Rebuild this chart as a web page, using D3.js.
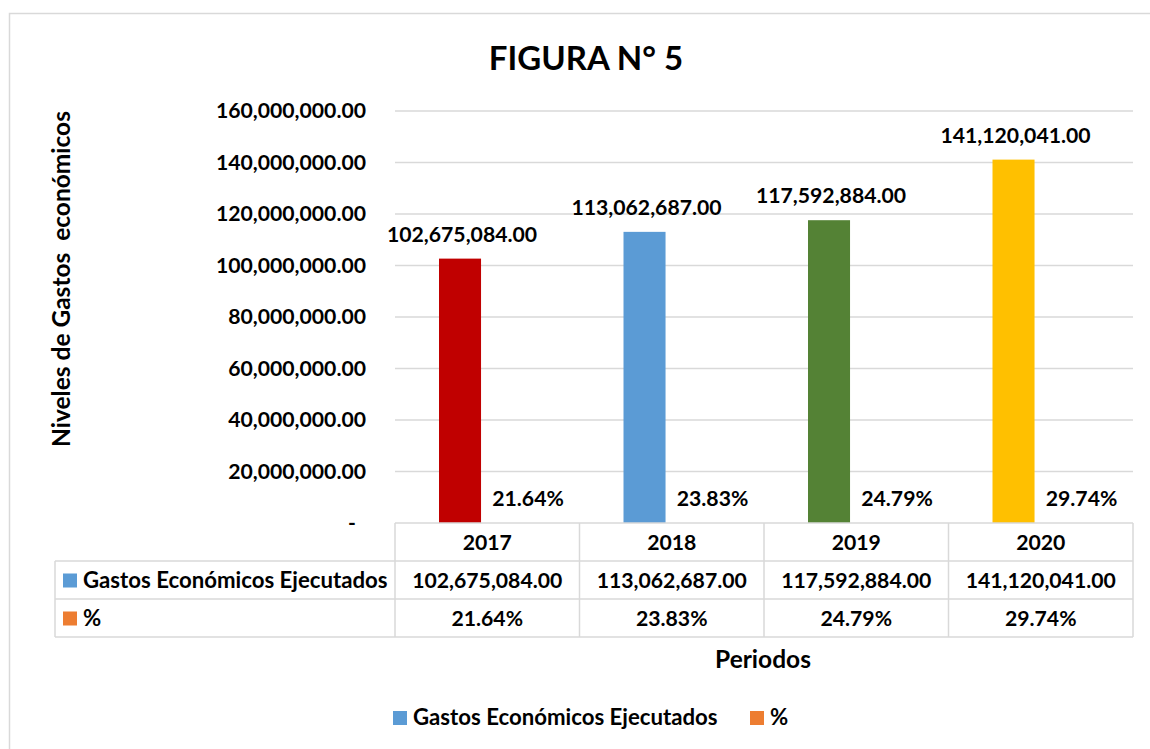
<!DOCTYPE html>
<html>
<head>
<meta charset="utf-8">
<script src="https://cdn.jsdelivr.net/npm/d3@7"></script>
<style>
  html, body { margin: 0; padding: 0; background: #fff; }
  svg { display: block; }
  text { font-family: Lato, "Open Sans", sans-serif; font-weight: bold; fill: #000; }
</style>
</head>
<body>
<svg id="chart" width="1150" height="749"></svg>
<script>
const categories = ["2017", "2018", "2019", "2020"];
const gastos = [102675084, 113062687, 117592884, 141120041];
const porcentajes = [21.64, 23.83, 24.79, 29.74];
const barColors = ["#C00000", "#5B9BD5", "#548235", "#FFC000"];
const seriesNames = ["Gastos Económicos Ejecutados", "%"];
const seriesColors = ["#5B9BD5", "#ED7D31"];
const yTicks = [0, 20000000, 40000000, 60000000, 80000000, 100000000, 120000000, 140000000, 160000000];
const titleText = "FIGURA N° 5";
const yTitle = "Niveles de Gastos\u00A0 económicos";
const xTitle = "Periodos";

const svg = d3.select("#chart");
const gridColor = "#d9d9d9";
const fs = 21.2;     // numbers
const fsT = 22.2;    // words in table / legend
const fsAx = 24.5;   // axis titles

// outer frame
svg.append("rect").attr("x", 9.5).attr("y", 13.5).attr("width", 1160).attr("height", 760)
  .attr("fill", "#fff").attr("stroke", gridColor).attr("stroke-width", 1.5);

const plot = {left: 395, right: 1133, top: 111, bottom: 523};
const x0 = d3.scaleBand().domain(categories).range([plot.left, plot.right]);
const bw = x0.bandwidth();
const x1 = d3.scaleBand().domain(seriesNames).range([bw * 0.2385, bw * 0.835]).paddingInner(0.382);
const y = d3.scaleLinear().domain([0, 160000000]).range([plot.bottom, plot.top]);
const fmt = d3.format(",.2f");

// gridlines
svg.append("g").selectAll("line").data(yTicks.filter(d => d > 0)).join("line")
  .attr("x1", plot.left).attr("x2", plot.right)
  .attr("y1", d => y(d)).attr("y2", d => y(d))
  .attr("stroke", gridColor).attr("stroke-width", 1.5);

// y tick labels
const yAxis = d3.axisLeft(y).tickValues(yTicks).tickSize(0).tickPadding(0)
  .tickFormat(d => d === 0 ? "-" : fmt(d));
const ya = svg.append("g").attr("transform", "translate(366,0)").call(yAxis);
ya.select(".domain").remove();
ya.selectAll("text").attr("font-size", fs).attr("font-family", "Lato").attr("font-weight", "bold")
  .attr("fill", "#000").attr("dx", d => d === 0 ? -10 : 0);

// bars series 1
const rows = categories.map((c, i) => ({c, g: gastos[i], p: porcentajes[i], col: barColors[i]}));
svg.append("g").selectAll("rect").data(rows).join("rect")
  .attr("x", d => x0(d.c) + x1(seriesNames[0]))
  .attr("width", x1.bandwidth())
  .attr("y", d => y(d.g))
  .attr("height", d => y(0) - y(d.g))
  .attr("fill", d => d.col);

// bars series 2 (percent on same axis -> practically zero height)
svg.append("g").selectAll("rect").data(rows).join("rect")
  .attr("x", d => x0(d.c) + x1(seriesNames[1]))
  .attr("width", x1.bandwidth())
  .attr("y", d => y(d.p / 100))
  .attr("height", d => y(0) - y(d.p / 100))
  .attr("fill", seriesColors[1]);

// data labels
svg.append("g").selectAll("text").data(rows).join("text")
  .attr("x", d => x0(d.c) + x1(seriesNames[0]) + x1.bandwidth() / 2 + 2)
  .attr("y", d => y(d.g) - 17)
  .attr("text-anchor", "middle").attr("font-size", fs)
  .text(d => fmt(d.g));
svg.append("g").selectAll("text").data(rows).join("text")
  .attr("x", d => x0(d.c) + x1(seriesNames[1]) + x1.bandwidth() / 2)
  .attr("y", d => y(d.p / 100) - 17)
  .attr("text-anchor", "middle").attr("font-size", fs)
  .text(d => d.p.toFixed(2) + "%");

// data table
const rowY = [523, 561, 599, 637];
const tableLeft = 55;
const tg = svg.append("g").attr("stroke", gridColor).attr("stroke-width", 1.5);
tg.append("line").attr("x1", plot.left).attr("x2", plot.right).attr("y1", rowY[0]).attr("y2", rowY[0]);
[1, 2, 3].forEach(i => tg.append("line").attr("x1", tableLeft).attr("x2", plot.right).attr("y1", rowY[i]).attr("y2", rowY[i]));
tg.append("line").attr("x1", tableLeft).attr("x2", tableLeft).attr("y1", rowY[1]).attr("y2", rowY[3]);
categories.concat(["end"]).forEach((c, i) => {
  const xx = i < categories.length ? x0(c) : plot.right;
  tg.append("line").attr("x1", xx).attr("x2", xx).attr("y1", rowY[0]).attr("y2", rowY[3]);
});

const cellText = (txt, cx, row) => svg.append("text").attr("x", cx).attr("y", (rowY[row] + rowY[row + 1]) / 2 + 7.5)
  .attr("text-anchor", "middle").attr("font-size", fs).text(txt);
rows.forEach(d => {
  const cx = x0(d.c) + bw / 2;
  cellText(d.c, cx, 0);
  cellText(fmt(d.g), cx, 1);
  cellText(d.p.toFixed(2) + "%", cx, 2);
});
seriesNames.forEach((s, i) => {
  const cy = (rowY[i + 1] + rowY[i + 2]) / 2;
  svg.append("rect").attr("x", 63).attr("y", cy - 6.5).attr("width", 14).attr("height", 14).attr("fill", seriesColors[i]);
  svg.append("text").attr("x", 83).attr("y", cy + 7.5).attr("font-size", fsT).text(s);
});

// titles
svg.append("text").attr("x", 586).attr("y", 70).attr("text-anchor", "middle").attr("font-size", 33).text(titleText);
svg.append("text").attr("transform", "translate(70,279) rotate(-90)").attr("text-anchor", "middle")
  .attr("font-size", fsAx).text(yTitle);
svg.append("text").attr("x", 763).attr("y", 668).attr("text-anchor", "middle").attr("font-size", fsAx).text(xTitle);

// legend
const lg = svg.append("g");
const legX = [393, 750];
seriesNames.forEach((s, i) => {
  lg.append("rect").attr("x", legX[i]).attr("y", 711).attr("width", 14).attr("height", 14).attr("fill", seriesColors[i]);
  lg.append("text").attr("x", legX[i] + 20).attr("y", 725).attr("font-size", fsT).text(s);
});
</script>
</body>
</html>
